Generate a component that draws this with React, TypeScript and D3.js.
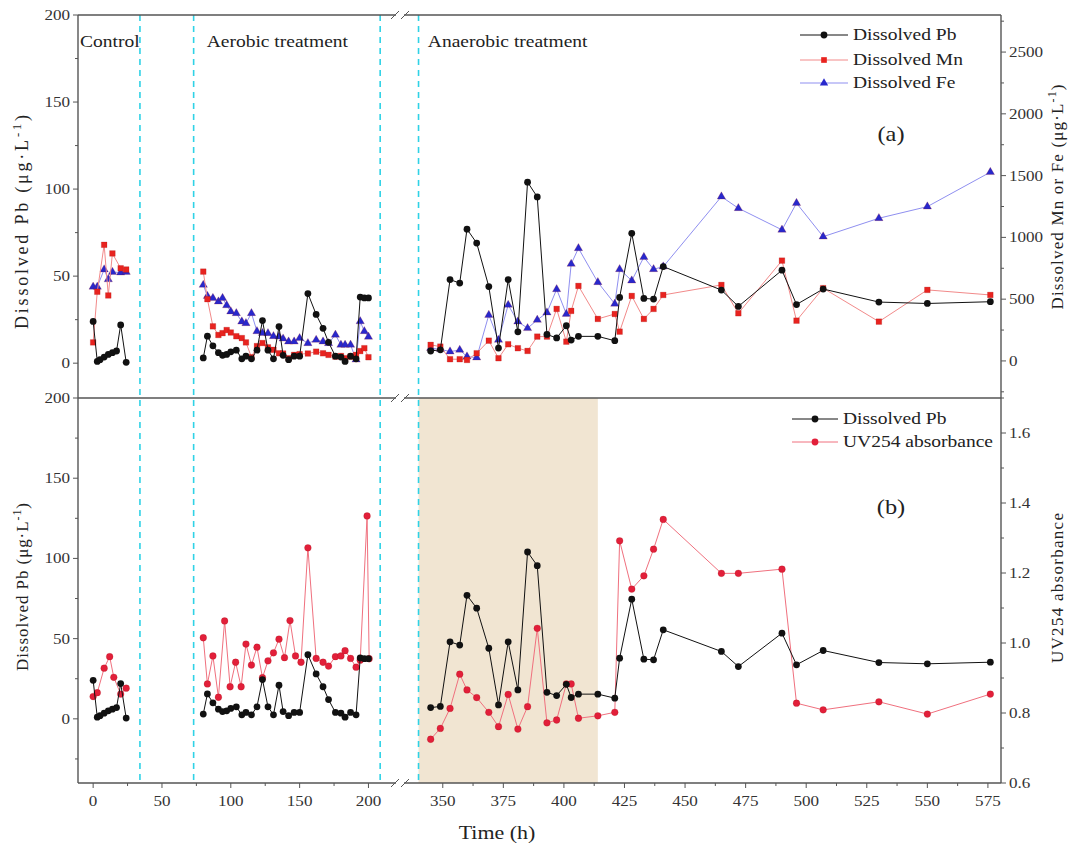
import React from 'react';
import * as d3 from 'd3';

// Two stacked panels sharing a broken time axis: (a) Pb vs Mn/Fe, (b) Pb vs UV254.

const W = 1070;
const H = 853;
const LEFT = 78;
const RIGHT = 1001;
const TOP_A = 15;
const MID = 398;
const BOT_B = 783;
const BREAK_L = 396;
const BREAK_R = 404;
const FONT = '"Liberation Serif", "Times New Roman", serif';
const STRETCH = 1.22; // the source figure's glyphs are a bit wider than tall

// ----- control phase -----
const ctrlPbTime = [0, 3, 5, 8, 11, 14, 17, 20, 24];
const ctrlPb = [24, 1, 2, 3.5, 5, 6, 7, 22, 0.5];
const ctrlMetalTime = [0, 3, 8, 11, 14, 20, 24];
const ctrlMn = [150, 560, 940, 530, 870, 750, 740];
const ctrlFe = [600, 600, 740, 660, 720, 715, 720];
const ctrlUvTime = [0, 3, 8, 12, 15, 20, 24];
const ctrlUv = [0.847, 0.858, 0.928, 0.961, 0.902, 0.854, 0.871];

// ----- aerobic phase -----
const aerTime = [80, 83, 87, 91, 94, 97, 100, 104, 108, 111, 115, 119, 123, 127, 131, 135,
  138, 142, 146, 150, 156, 162, 167, 171, 176, 180, 183, 187, 191, 194, 197, 200];
const aerPb = [3, 15.5, 10, 6, 4.5, 5, 6.5, 7.5, 2.5, 4, 2.5, 7.5, 24.5, 7.5, 2.5, 21,
  4.5, 2, 4, 4, 40, 28, 20, 12, 4, 3.5, 1, 4, 2.5, 38, 37.5, 37.5];
const aerMn = [723, 500, 280, 210, 225, 250, 230, 200, 185, 150, 30, 120, 145, 110, 90, 62,
  60, 22, 49, 55, 60, 75, 62, 49, 35, 40, 22, 35, 49, 80, 103, 30];
const aerFe = [615, 525, 508, 480, 508, 450, 400, 386, 318, 305, 386, 240, 225, 224, 200, 197,
  180, 156, 156, 184, 143, 170, 156, 143, 211, 130, 130, 130, 10, 320, 240, 195];
const aerUvTime = [80, 83, 87, 91, 95.5, 99.5, 103.5, 107.5, 111, 115, 119, 123, 127, 131, 135,
  139, 143, 147, 151, 156, 162, 167, 171, 176, 180, 183, 187, 191, 194, 199, 200.5];
const aerUv = [1.015, 0.883, 0.963, 0.845, 1.063, 0.875, 0.945, 0.875, 0.997, 0.937, 0.988,
  0.901, 0.949, 0.972, 1.011, 0.958, 1.064, 0.963, 0.945, 1.272, 0.956, 0.945, 0.934, 0.961,
  0.963, 0.978, 0.956, 0.931, 0.951, 1.363, 0.955];

// ----- anaerobic phase -----
const anTime = [345, 349, 353, 357, 360, 364, 369, 373, 377, 381, 385, 389, 393, 397, 401, 403,
  406, 414, 421, 423, 428, 433, 437, 441, 465, 472, 490, 496, 507, 530, 550, 576];
const anPb = [7, 7.7, 48, 46, 77, 69, 44, 8.7, 48, 18, 104, 95.5, 16.5, 14.5, 21.5, 13.3,
  15.4, 15.4, 12.9, 37.8, 74.6, 37.2, 36.8, 55.5, 42, 32.6, 53.4, 33.7, 42.6, 35.1, 34.3, 35.3];
const anMn = [130, 116, 14, 14, 8, 62, 164, 22, 135, 103, 81, 197, 197, 421, 156, 405,
  607, 340, 380, 237, 526, 340, 421, 534, 615, 386, 812, 326, 589, 318, 575, 534];
const anFe = [103, 95, 75, 89, 35, 27, 372, 170, 453, 318, 265, 332, 391, 580, 380, 785,
  912, 637, 462, 742, 650, 840, 742, 763, 1330, 1236, 1061, 1277, 1006, 1155, 1249, 1528];
const anUv = [0.725, 0.756, 0.813, 0.911, 0.866, 0.844, 0.802, 0.761, 0.853, 0.754, 0.818,
  1.042, 0.772, 0.78, 0.883, 0.883, 0.785, 0.792, 0.802, 1.292, 1.154, 1.192, 1.268, 1.353,
  1.199, 1.199, 1.211, 0.828, 0.809, 0.832, 0.797, 0.854];

const phaseDividers = [34, 73, 208.5, 340];
const shadeRange = [340, 414];
const phaseLabels = [
  { t: -11, text: 'Control' },
  { t: 81, text: 'Aerobic treatment' },
  { t: 343, text: 'Anaerobic treatment' },
];
const xTicksLeft = [0, 50, 100, 150, 200];
const xTicksRight = [350, 375, 400, 425, 450, 475, 500, 525, 550, 575];

const COLORS = {
  pb: '#111111',
  mnLine: '#f28a8a',
  mnMark: '#e8231f',
  feLine: '#8f8ff0',
  feMark: '#2828cc',
  uvLine: '#f0707e',
  uvMark: '#e21f3a',
  axis: '#555555',
  cyan: '#2fd2e6',
  shade: '#f1e5d2',
};

const xLeft = d3.scaleLinear().domain([-11, 220]).range([LEFT, BREAK_L]);
const xRight = d3.scaleLinear().domain([334, 580.4]).range([BREAK_R, RIGHT]);
const xPos = (t: number) => (t < 300 ? xLeft(t) : xRight(t));

const yPbA = d3.scaleLinear().domain([-20, 200]).range([MID, TOP_A]);
const yMetal = d3.scaleLinear().domain([-300, 2800]).range([MID, TOP_A]);
const yPbB = d3.scaleLinear().domain([-40, 200]).range([BOT_B, MID]);
const yUv = d3.scaleLinear().domain([0.6, 1.7]).range([BOT_B, MID]);

const symbolPath = {
  circle: d3.symbol(d3.symbolCircle, 36)() as string,
  square: d3.symbol(d3.symbolSquare, 32)() as string,
  triangle: d3.symbol(d3.symbolTriangle, 30)() as string,
};

// horizontal label, widened like the source figure's type
function Txt({ x, y, size = 14, anchor = 'start', fill = '#222', children }) {
  return (
    <g transform={`translate(${x},${y}) scale(${STRETCH},1)`}>
      <text fontSize={size} textAnchor={anchor} fill={fill}>
        {children}
      </text>
    </g>
  );
}

function Series({ times, values, yScale, lineColor, markColor, shape }) {
  const pts = times.map((t, i) => [xPos(t), yScale(values[i])] as [number, number]);
  const path = d3.line()(pts) ?? '';
  return (
    <g>
      <path d={path} fill="none" stroke={lineColor} strokeWidth={1} />
      {pts.map((p, i) => (
        <path
          key={i}
          d={symbolPath[shape]}
          transform={`translate(${p[0]},${p[1]})`}
          fill={markColor}
          stroke={markColor === COLORS.pb ? 'none' : '#9a1010'}
          strokeOpacity={0.35}
          strokeWidth={0.6}
        />
      ))}
    </g>
  );
}

function Unit({ prefix }) {
  return (
    <>
      {prefix}(μg·L
      <tspan baselineShift="super" fontSize="70%">-1</tspan>)
    </>
  );
}

function LegendRow({ x, y, lineColor, markColor, shape, label, len = 48 }) {
  return (
    <g>
      <line x1={x} x2={x + len} y1={y} y2={y} stroke={lineColor} strokeWidth={1} />
      <path d={symbolPath[shape]} transform={`translate(${x + len / 2},${y})`} fill={markColor} />
      <Txt x={x + len + 5} y={y + 5} size={16}>
        {label}
      </Txt>
    </g>
  );
}

export default function App() {
  const xMinorLeft = d3.range(25, 200, 50);
  const xMinorRight = d3.range(362.5, 580, 25);
  const leftMajor = [0, 50, 100, 150, 200];
  const leftMinorA = [25, 75, 125, 175];
  const leftMinorB = [-25, 25, 75, 125, 175];
  const metalMajor = d3.range(0, 2501, 500);
  const metalMinor = d3.range(-250, 2800, 500);
  const uvMajor = [0.6, 0.8, 1.0, 1.2, 1.4, 1.6];
  const uvMinor = [0.7, 0.9, 1.1, 1.3, 1.5, 1.7];

  const hBorder = (y: number, k: string) => (
    <g key={k}>
      <line x1={LEFT} x2={BREAK_L} y1={y} y2={y} stroke={COLORS.axis} strokeWidth={1.4} />
      <line x1={BREAK_R} x2={RIGHT} y1={y} y2={y} stroke={COLORS.axis} strokeWidth={1.4} />
      <line x1={BREAK_L - 5} x2={BREAK_L + 3} y1={y + 4} y2={y - 4} stroke={COLORS.axis} strokeWidth={1} />
      <line x1={BREAK_R - 3} x2={BREAK_R + 5} y1={y + 4} y2={y - 4} stroke={COLORS.axis} strokeWidth={1} />
    </g>
  );

  return (
    <svg
      width={W}
      height={H}
      viewBox={`0 0 ${W} ${H}`}
      style={{ position: 'absolute', left: 0, top: 0, background: '#fff' }}
      fontFamily={FONT}
    >
      <rect width={W} height={H} fill="#fff" />

      {/* shaded anaerobic window in panel (b) */}
      <rect
        x={xRight(shadeRange[0])}
        y={MID}
        width={xRight(shadeRange[1]) - xRight(shadeRange[0])}
        height={BOT_B - MID}
        fill={COLORS.shade}
      />

      {/* phase dividers */}
      {phaseDividers.map((t) => (
        <line
          key={`div-${t}`}
          x1={xPos(t)}
          x2={xPos(t)}
          y1={TOP_A}
          y2={BOT_B}
          stroke={COLORS.cyan}
          strokeWidth={1.6}
          strokeDasharray="6,5"
        />
      ))}

      {phaseLabels.map((p) => (
        <Txt key={p.text} x={xPos(p.t) + 2} y={47} size={16}>
          {p.text}
        </Txt>
      ))}

      {/* ----- panel (a) ----- */}
      <Series times={ctrlMetalTime} values={ctrlFe} yScale={yMetal} lineColor={COLORS.feLine} markColor={COLORS.feMark} shape="triangle" />
      <Series times={aerTime} values={aerFe} yScale={yMetal} lineColor={COLORS.feLine} markColor={COLORS.feMark} shape="triangle" />
      <Series times={anTime} values={anFe} yScale={yMetal} lineColor={COLORS.feLine} markColor={COLORS.feMark} shape="triangle" />
      <Series times={ctrlMetalTime} values={ctrlMn} yScale={yMetal} lineColor={COLORS.mnLine} markColor={COLORS.mnMark} shape="square" />
      <Series times={aerTime} values={aerMn} yScale={yMetal} lineColor={COLORS.mnLine} markColor={COLORS.mnMark} shape="square" />
      <Series times={anTime} values={anMn} yScale={yMetal} lineColor={COLORS.mnLine} markColor={COLORS.mnMark} shape="square" />
      <Series times={ctrlPbTime} values={ctrlPb} yScale={yPbA} lineColor={COLORS.pb} markColor={COLORS.pb} shape="circle" />
      <Series times={aerTime} values={aerPb} yScale={yPbA} lineColor={COLORS.pb} markColor={COLORS.pb} shape="circle" />
      <Series times={anTime} values={anPb} yScale={yPbA} lineColor={COLORS.pb} markColor={COLORS.pb} shape="circle" />

      {/* ----- panel (b) ----- */}
      <Series times={ctrlUvTime} values={ctrlUv} yScale={yUv} lineColor={COLORS.uvLine} markColor={COLORS.uvMark} shape="circle" />
      <Series times={aerUvTime} values={aerUv} yScale={yUv} lineColor={COLORS.uvLine} markColor={COLORS.uvMark} shape="circle" />
      <Series times={anTime} values={anUv} yScale={yUv} lineColor={COLORS.uvLine} markColor={COLORS.uvMark} shape="circle" />
      <Series times={ctrlPbTime} values={ctrlPb} yScale={yPbB} lineColor={COLORS.pb} markColor={COLORS.pb} shape="circle" />
      <Series times={aerTime} values={aerPb} yScale={yPbB} lineColor={COLORS.pb} markColor={COLORS.pb} shape="circle" />
      <Series times={anTime} values={anPb} yScale={yPbB} lineColor={COLORS.pb} markColor={COLORS.pb} shape="circle" />

      {/* frame */}
      {hBorder(TOP_A, 'top')}
      {hBorder(MID, 'mid')}
      {hBorder(BOT_B, 'bot')}
      <line x1={LEFT} x2={LEFT} y1={TOP_A} y2={BOT_B} stroke={COLORS.axis} strokeWidth={1.4} />
      <line x1={RIGHT} x2={RIGHT} y1={TOP_A} y2={BOT_B} stroke={COLORS.axis} strokeWidth={1.4} />

      {/* left axes */}
      {[
        { scale: yPbA, minor: leftMinorA },
        { scale: yPbB, minor: leftMinorB },
      ].map(({ scale, minor }, k) => (
        <g key={`la-${k}`}>
          {leftMajor.map((v) => (
            <g key={v}>
              <line x1={LEFT - 5} x2={LEFT} y1={scale(v)} y2={scale(v)} stroke={COLORS.axis} />
              <Txt x={LEFT - 8} y={scale(v) + 5} anchor="end" fill="#333">{v}</Txt>
            </g>
          ))}
          {minor.map((v) => (
            <line key={`m${v}`} x1={LEFT - 3} x2={LEFT} y1={scale(v)} y2={scale(v)} stroke={COLORS.axis} />
          ))}
        </g>
      ))}

      {/* right axis (a) */}
      <g>
        {metalMajor.map((v) => (
          <g key={v}>
            <line x1={RIGHT} x2={RIGHT + 5} y1={yMetal(v)} y2={yMetal(v)} stroke={COLORS.axis} />
            <Txt x={RIGHT + 8} y={yMetal(v) + 5} fill="#333">{v}</Txt>
          </g>
        ))}
        {metalMinor.map((v) => (
          <line key={`m${v}`} x1={RIGHT} x2={RIGHT + 3} y1={yMetal(v)} y2={yMetal(v)} stroke={COLORS.axis} />
        ))}
      </g>

      {/* right axis (b) */}
      <g>
        {uvMajor.map((v) => (
          <g key={v}>
            <line x1={RIGHT} x2={RIGHT + 5} y1={yUv(v)} y2={yUv(v)} stroke={COLORS.axis} />
            <Txt x={RIGHT + 8} y={yUv(v) + 5} fill="#333">{v.toFixed(1)}</Txt>
          </g>
        ))}
        {uvMinor.map((v) => (
          <line key={`m${v}`} x1={RIGHT} x2={RIGHT + 3} y1={yUv(v)} y2={yUv(v)} stroke={COLORS.axis} />
        ))}
      </g>

      {/* x axis */}
      <g>
        {xTicksLeft.map((t) => (
          <g key={`xl${t}`}>
            <line x1={xLeft(t)} x2={xLeft(t)} y1={BOT_B} y2={BOT_B + 5} stroke={COLORS.axis} />
            <Txt x={xLeft(t)} y={BOT_B + 23} anchor="middle" fill="#333">{t}</Txt>
          </g>
        ))}
        {xMinorLeft.map((t) => (
          <line key={`xlm${t}`} x1={xLeft(t)} x2={xLeft(t)} y1={BOT_B} y2={BOT_B + 3} stroke={COLORS.axis} />
        ))}
        {xTicksRight.map((t) => (
          <g key={`xr${t}`}>
            <line x1={xRight(t)} x2={xRight(t)} y1={BOT_B} y2={BOT_B + 5} stroke={COLORS.axis} />
            <Txt x={xRight(t)} y={BOT_B + 23} anchor="middle" fill="#333">{t}</Txt>
          </g>
        ))}
        {xMinorRight.map((t) => (
          <line key={`xrm${t}`} x1={xRight(t)} x2={xRight(t)} y1={BOT_B} y2={BOT_B + 3} stroke={COLORS.axis} />
        ))}
      </g>

      {/* axis titles */}
      <Txt x={497} y={839} size={18} anchor="middle">Time (h)</Txt>
      <text transform="translate(28,222) rotate(-90)" fontSize={18} textAnchor="middle" fill="#222"
        textLength={214} lengthAdjust="spacing">
        <Unit prefix="Dissolved Pb " />
      </text>
      <text transform="translate(28,587) rotate(-90)" fontSize={17} textAnchor="middle" fill="#222"
        textLength={168} lengthAdjust="spacing">
        <Unit prefix="Dissolved Pb " />
      </text>
      <text transform="translate(1063,197) rotate(-90)" fontSize={17} textAnchor="middle" fill="#222"
        textLength={225} lengthAdjust="spacing">
        <Unit prefix="Dissolved Mn or Fe " />
      </text>
      <text transform="translate(1063,588) rotate(-90)" fontSize={17} textAnchor="middle" fill="#222"
        textLength={150} lengthAdjust="spacing">
        UV254 absorbance
      </text>

      {/* panel tags */}
      <Txt x={891} y={141} size={20} anchor="middle">(a)</Txt>
      <Txt x={891} y={514} size={20} anchor="middle">(b)</Txt>

      {/* legends */}
      <LegendRow x={800} y={35} lineColor={COLORS.pb} markColor={COLORS.pb} shape="circle" label="Dissolved Pb" />
      <LegendRow x={800} y={60} lineColor={COLORS.mnLine} markColor={COLORS.mnMark} shape="square" label="Dissolved Mn" />
      <LegendRow x={800} y={83} lineColor={COLORS.feLine} markColor={COLORS.feMark} shape="triangle" label="Dissolved Fe" />
      <LegendRow x={792} y={419} lineColor={COLORS.pb} markColor={COLORS.pb} shape="circle" label="Dissolved Pb" len={46} />
      <LegendRow x={792} y={442} lineColor={COLORS.uvLine} markColor={COLORS.uvMark} shape="circle" label="UV254 absorbance" len={46} />
    </svg>
  );
}
